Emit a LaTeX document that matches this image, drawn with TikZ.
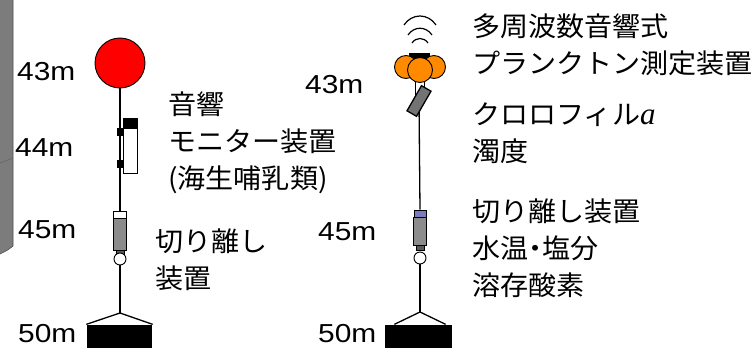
\documentclass[tikz,border=0pt]{standalone}
\usepackage{fontspec}
\setmainfont[FakeStretch=1.15]{Liberation Sans}
\newfontfamily\jpfont[FakeStretch=1.04]{Noto Sans CJK JP}
\newfontfamily\letterfont{Liberation Serif}
\usepackage{tikz}
\usetikzlibrary{backgrounds}
\definecolor{buoyRed}{HTML}{FF0000}
\definecolor{floatOrange}{HTML}{FF8A00}
\definecolor{capBlue}{HTML}{7B7BC0}
\definecolor{panelGray}{HTML}{7C7C7C}
\newcommand{\depthfont}{\fontsize{26}{30}\selectfont}
\newcommand{\jplabel}{\jpfont\fontsize{27}{37}\selectfont}
\newcommand{\halfdot}{{\addfontfeature{RawFeature=+palt}・}}
\newcommand{\chla}{{\letterfont\itshape\fontsize{31}{37}\selectfont a}}

\begin{document}
\begin{tikzpicture}[
    x=1pt, y=-1pt,
    line width=1.3pt,
    rope/.style={draw=black, line width=1.3pt},
    depthlbl/.style={anchor=west, inner sep=0pt, font=\depthfont},
    desc/.style={anchor=west, inner sep=0pt, align=left, font=\jplabel},
    part/.style={rectangle, draw=black, line width=0.9pt, inner sep=0pt},
    buoy/.style={circle, draw=black, line width=0.9pt, fill=buoyRed, minimum size=50pt, inner sep=0pt},
    float/.style={circle, draw=black, line width=0.9pt, fill=floatOrange, minimum size=#1, inner sep=0pt},
    ring/.style={circle, draw=black, line width=0.9pt, fill=white, minimum size=12pt, inner sep=0pt},
    sinker/.style={rectangle, fill=black, minimum width=#1, minimum height=23pt, inner sep=0pt},
]
  \useasboundingbox (0,0) rectangle (756,348);
  % grey panel at the left edge
  \fill[panelGray] (0,0) -- (13,0) -- (13,246) .. controls (8,250) .. (0,254) -- cycle;
  \draw[black!70, line width=0.6pt] (13,0) -- (13,246) .. controls (8,250) .. (0,254);
  \draw[black!60, line width=0.6pt] (0,163) -- (13,158);

  % left mooring (x = 120)
  \node[buoy] (buoyL) at (120,63) {};
  \node[part, fill=black, minimum width=14pt, minimum height=10pt] (monCap) at (130,123) {};
  \node[part, fill=white, minimum width=14pt, minimum height=45pt] (monitor) at (130,150.5) {};
  \node[part, fill=black, minimum width=6pt, minimum height=7pt] (clipA) at (120,131.5) {};
  \node[part, fill=black, minimum width=6pt, minimum height=7pt] (clipB) at (120,163.5) {};
  \node[part, fill=white, minimum width=13pt, minimum height=7pt] (relTopL) at (120,214.5) {};
  \node[part, fill=black!45, minimum width=13pt, minimum height=32pt] (relL) at (120,234) {};
  \node[part, fill=black!65, minimum width=8pt, minimum height=4pt] (shackleL) at (120,252) {};
  \node[ring] (ringL) at (120,259) {};
  \coordinate (apexL) at (120,313);
  \node[sinker=65pt] (sinkL) at (119.5,336.5) {};

  % right mooring (x = 420)
  \foreach \hw/\ey/\cy in {16/25/13, 12/35/26, 8/43/37}
    \draw[line width=1.2pt] (420-\hw,\ey) .. controls (420-\hw/2,\cy) and (420+\hw/2,\cy) .. (420+\hw,\ey);
  \node[part, fill=black, minimum width=20pt, minimum height=7pt] (headR) at (419,56.5) {};
  \node[float=23pt] (floatL) at (406,67) {};
  \node[float=23pt] (floatR) at (434,67) {};
  \node[float=25pt] (floatM) at (420,70) {};
  \node[part, fill=black!55, line width=1.3pt, minimum width=29pt, minimum height=11pt, rotate=60] (sensor) at (419,101) {};
  \node[part, fill=capBlue, minimum width=12pt, minimum height=7pt] (relTopR) at (420,213.5) {};
  \node[part, fill=black!45, minimum width=13pt, minimum height=28pt] (relR) at (420,231) {};
  \node[part, fill=black!65, minimum width=8pt, minimum height=5pt] (shackleR) at (420,248) {};
  \node[ring] (ringR) at (420,258) {};
  \coordinate (apexR) at (420,312);
  \node[sinker=67pt] (sinkR) at (418.5,336.5) {};

  % ropes, kept under the parts
  \begin{pgfonlayer}{background}
    \draw[rope] (buoyL.south) -- (relTopL.north);
    \draw[rope] (ringL.south) -- (apexL);
    \draw[rope] (sinkL.north west) -- (apexL) -- (sinkL.north east);
    \draw[rope] (floatM.250) -- (floatM.250 |- sensor.center);
    \draw[rope] (floatM.290) -- (floatM.290 |- sensor.center);
    \draw[rope] (sensor.center) -- (relTopR.north);
    \draw[rope] (ringR.south) -- (apexR);
    \draw[rope] ([xshift=10pt]sinkR.north west) -- (apexR) -- ([xshift=-7pt]sinkR.north east);
  \end{pgfonlayer}

  % depths
  \node[depthlbl] (dL43) at (17,72) {43m};
  \node[depthlbl] (dL44) at (15,148) {44m};
  \node[depthlbl] (dL45) at (18,230) {45m};
  \node[depthlbl] (dL50) at (18,334) {50m};
  \node[depthlbl] (dR43) at (305,85) {43m};
  \node[depthlbl] (dR45) at (318,232) {45m};
  \node[depthlbl] (dR50) at (318,334) {50m};

  % instrument labels
  \node[desc] (monitorTxt) at (168,143) {音響\\モニター装置\\(海生哺乳類)};
  \node[desc] (releaseTxtL) at (155,260) {切り離し\\装置};
  \node[desc] (acousticTxt) at (472,45) {多周波数音響式\\プランクトン測定装置};
  \node[desc] (chlTxt) at (472,133) {クロロフィル\chla\\濁度};
  \node[desc] (ctdTxt) at (472,248) {切り離し装置\\水温\halfdot 塩分\\溶存酸素};
\end{tikzpicture}
\end{document}
